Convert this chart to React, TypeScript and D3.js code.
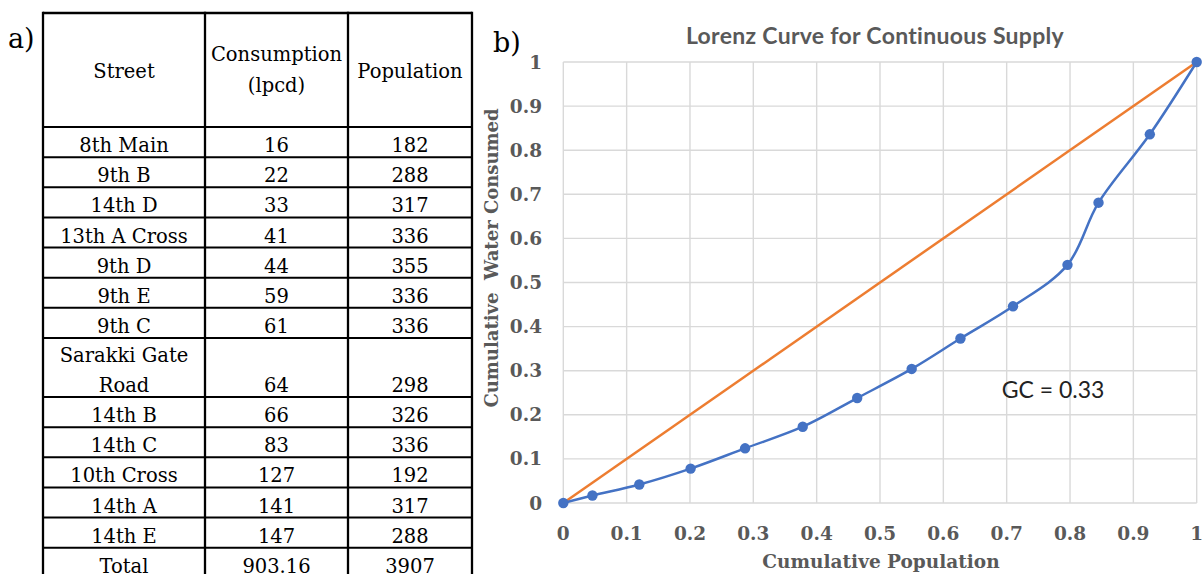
import React from "react";
import * as d3 from "d3";

// ---- Table data (panel a) ----
const streets: string[][] = [
  ["8th Main"], ["9th B"], ["14th D"], ["13th A Cross"], ["9th D"], ["9th E"], ["9th C"],
  ["Sarakki Gate", "Road"], ["14th B"], ["14th C"], ["10th Cross"], ["14th A"], ["14th E"], ["Total"],
];
const consumption: string[] = ["16", "22", "33", "41", "44", "59", "61", "64", "66", "83", "127", "141", "147", "903.16"];
const population: string[] = ["182", "288", "317", "336", "355", "336", "336", "298", "326", "336", "192", "317", "288", "3907"];
const headers: string[][] = [["Street"], ["Consumption", "(lpcd)"], ["Population"]];

// ---- Chart data (panel b) ----
const cumPopulation: number[] = [0, 0.046, 0.12, 0.201, 0.287, 0.378, 0.464, 0.55, 0.627, 0.71, 0.796, 0.845, 0.926, 1];
const cumWater: number[] = [0, 0.017, 0.042, 0.078, 0.124, 0.173, 0.238, 0.304, 0.373, 0.446, 0.54, 0.681, 0.836, 1];
const equalityX: number[] = [0, 1];
const equalityY: number[] = [0, 1];
const tickValues: number[] = [0, 0.1, 0.2, 0.3, 0.4, 0.5, 0.6, 0.7, 0.8, 0.9, 1];
const chartTitle = "Lorenz Curve for Continuous Supply";
const xTitle = "Cumulative Population";
const yTitle = "Cumulative  Water Consumed";
const annotation = "GC = 0.33";

const W = 1203;
const H = 574;

function Table() {
  const left = 43;
  const colEdges = [43, 205, 348, 472];
  const top = 13;
  const headerBottom = 127;
  const unit = 30.14;
  const serif = "'DejaVu Serif', serif";
  const fs = 19.5;

  const rows: { y0: number; y1: number }[] = [];
  let y = headerBottom;
  streets.forEach((s) => {
    const h = unit * s.length * (s.length > 1 ? 0.98 : 1);
    rows.push({ y0: y, y1: y + h });
    y += h;
  });
  const bottom = rows[rows.length - 1].y1;
  const centers = colEdges.slice(0, 3).map((e, i) => (e + colEdges[i + 1]) / 2);

  return (
    <g>
      <text x={8} y={48} fontFamily={serif} fontSize={27}>a)</text>
      {headers.map((lines, ci) => {
        const mid = (top + headerBottom) / 2;
        const lh = 31;
        const start = mid + 8 - ((lines.length - 1) * lh) / 2 - (lines.length > 1 ? 2 : 0);
        return lines.map((ln, li) => (
          <text key={`h${ci}${li}`} x={centers[ci]} y={start + li * lh} textAnchor="middle" fontFamily={serif} fontSize={fs}>
            {ln}
          </text>
        ));
      })}
      {rows.map((r, ri) => {
        const base = r.y1 - 5;
        const st = streets[ri];
        return (
          <g key={`r${ri}`}>
            {st.map((ln, li) => (
              <text key={li} x={centers[0]} y={base - (st.length - 1 - li) * unit} textAnchor="middle" fontFamily={serif} fontSize={fs}>
                {ln}
              </text>
            ))}
            <text x={centers[1]} y={base} textAnchor="middle" fontFamily={serif} fontSize={fs}>{consumption[ri]}</text>
            <text x={centers[2]} y={base} textAnchor="middle" fontFamily={serif} fontSize={fs}>{population[ri]}</text>
          </g>
        );
      })}
      <line x1={left} x2={colEdges[3]} y1={top} y2={top} stroke="#000" strokeWidth={2.5} />
      <line x1={left} x2={colEdges[3]} y1={headerBottom} y2={headerBottom} stroke="#000" strokeWidth={2} />
      {rows.map((r, ri) => (
        <line key={`hl${ri}`} x1={left} x2={colEdges[3]} y1={r.y1} y2={r.y1} stroke="#000" strokeWidth={2} />
      ))}
      {colEdges.map((x, i) => (
        <line key={`vl${i}`} x1={x} x2={x} y1={top - 1.2} y2={bottom + 10} stroke="#000" strokeWidth={2.3} />
      ))}
    </g>
  );
}

function Chart() {
  const x = d3.scaleLinear().domain([0, 1]).range([563.3, 1196.7]);
  const y = d3.scaleLinear().domain([0, 1]).range([503, 62]);
  const pts = cumPopulation.map((p, i) => [p, cumWater[i]] as [number, number]);
  const lorenz = d3
    .line<[number, number]>()
    .x((d) => x(d[0]))
    .y((d) => y(d[1]))
    .curve(d3.curveCatmullRom.alpha(0.5));
  const eq = d3
    .line<[number, number]>()
    .x((d) => x(d[0]))
    .y((d) => y(d[1]));
  const eqPts = equalityX.map((v, i) => [v, equalityY[i]] as [number, number]);
  const fmt = (d: number) => (d === 0 || d === 1 ? String(d) : d.toFixed(1));
  const gray = "#595959";
  const serifB = "'DejaVu Serif', serif";

  return (
    <g>
      <text x={493} y={52} fontFamily={serifB} fontSize={27}>b)</text>
      <text x={875} y={44} textAnchor="middle" fontFamily="Lato, sans-serif" fontWeight="bold" fontSize={23} letterSpacing={0.3} fill={gray}>
        {chartTitle}
      </text>
      {tickValues.map((t) => (
        <line key={`gx${t}`} x1={x(t)} x2={x(t)} y1={y(0)} y2={y(1)} stroke="#d9d9d9" strokeWidth={1.4} />
      ))}
      {tickValues.map((t) => (
        <line key={`gy${t}`} x1={x(0)} x2={x(1)} y1={y(t)} y2={y(t)} stroke="#d9d9d9" strokeWidth={1.4} />
      ))}
      {tickValues.map((t) => (
        <text key={`ty${t}`} x={542} y={y(t) + 6.5} textAnchor="end" fontFamily={serifB} fontWeight="bold" fontSize={18.5} fill={gray}>
          {fmt(t)}
        </text>
      ))}
      {tickValues.map((t) => (
        <text key={`tx${t}`} x={x(t)} y={540} textAnchor="middle" fontFamily={serifB} fontWeight="bold" fontSize={18.5} fill={gray}>
          {fmt(t)}
        </text>
      ))}
      <text x={881} y={568} textAnchor="middle" fontFamily={serifB} fontWeight="bold" fontSize={18.5} fill={gray}>
        {xTitle}
      </text>
      <text
        transform={`translate(498, 258) rotate(-90)`}
        textAnchor="middle"
        fontFamily={serifB}
        fontWeight="bold"
        fontSize={18}
        fill={gray}
        style={{ whiteSpace: "pre" }}
      >
        {yTitle}
      </text>
      <path d={eq(eqPts) || ""} fill="none" stroke="#ED7D31" strokeWidth={2.5} />
      <path d={lorenz(pts) || ""} fill="none" stroke="#4472C4" strokeWidth={2.5} />
      {pts.map((p, i) => (
        <circle key={`m${i}`} cx={x(p[0])} cy={y(p[1])} r={5.2} fill="#4472C4" />
      ))}
      <text x={1053} y={398} textAnchor="middle" fontFamily="Lato, sans-serif" fontSize={23} fill="#222">
        {annotation}
      </text>
    </g>
  );
}

export default function App() {
  return (
    <svg
      width={W}
      height={H}
      viewBox={`0 0 ${W} ${H}`}
      style={{ position: "absolute", left: 0, top: 0, background: "#fff" }}
    >
      <rect x={0} y={0} width={W} height={H} fill="#fff" />
      <Table />
      <Chart />
    </svg>
  );
}
